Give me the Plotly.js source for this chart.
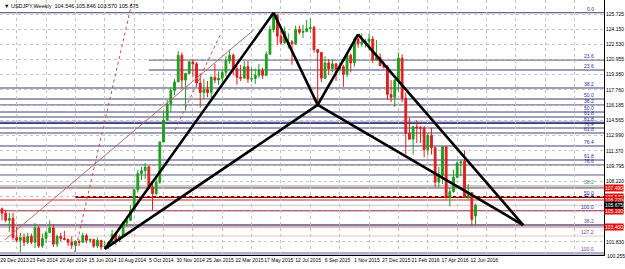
<!DOCTYPE html>
<html><head><meta charset="utf-8">
<script src="https://cdn.plot.ly/plotly-3.0.1.min.js"></script>
<style>html,body{margin:0;padding:0;background:#fff;overflow:hidden}#chart{width:625px;height:269px}</style>
</head><body><div id="chart"></div>
<script>
// ---------- DATA ----------
const startWeek = '2013-12-29';
const symbolTitle = 'USDJPY,Weekly  104.546 105.846 103.570 105.675';
const opens = [105.3,104.85,104.1,104.3,102.3,102.0,102.3,101.8,102.4,101.8,103.3,101.4,102.2,102.8,103.3,101.6,102.4,102.2,102.1,101.8,101.5,101.9,101.8,102.5,102.0,102.1,101.4,102.0,101.3,101.35,
101.8,102.6,102.0,102.4,103.8,104.1,105.1,107.3,109.0,109.3,109.7,107.6,106.9,108.1,112.3,114.6,116.3,117.7,118.6,121.4,118.8,119.5,120.7,120.5,118.5,117.5,117.8,117.5,119.1,118.8,
119.0,119.6,120.8,121.4,120.0,119.1,119.0,120.2,118.9,118.95,119.3,119.8,119.3,121.5,124.1,125.6,123.4,122.7,122.5,122.8,122.6,124.1,123.8,123.9,124.2,124.3,122.0,121.7,119.0,120.6,
120.0,120.5,119.9,120.2,119.4,121.4,120.6,123.1,122.6,122.8,122.85,123.1,120.9,121.2,120.3,120.2,117.3,117.0,118.8,121.1,116.9,113.2,112.6,113.9,113.8,113.75,111.5,113.0,111.7,108.1,
108.8,111.8,106.5,107.1,108.6,110.1,110.3,106.5,107.0,104.546];
const highs = [105.44,105.2,104.9,104.9,103.4,102.8,102.7,102.8,102.7,103.8,103.5,102.7,103.0,104.1,103.7,102.6,102.8,103.0,102.2,102.4,102.0,102.1,102.8,102.7,102.2,102.1,102.3,102.0,101.9,101.9,
103.1,102.8,102.6,104.0,104.5,105.7,107.4,109.4,109.7,110.1,109.8,107.9,108.4,112.4,115.6,116.7,118.0,118.9,121.85,121.7,119.1,120.8,121.0,120.7,119.5,118.9,118.7,119.2,120.5,119.7,
119.9,121.3,122.0,121.6,120.3,120.4,120.8,120.8,120.1,120.0,120.5,120.1,121.8,124.5,125.86,125.7,124.0,124.4,123.7,123.0,124.5,124.5,124.6,125.1,125.3,124.5,122.0,121.7,121.3,121.0,
121.0,120.6,120.6,120.4,121.5,121.6,123.3,123.6,123.7,123.1,123.7,123.4,123.0,121.6,120.8,120.4,118.8,118.9,121.7,121.5,117.5,114.9,114.0,114.6,114.0,114.0,113.3,113.8,111.9,109.7,
111.9,111.9,107.5,109.4,110.3,110.4,111.4,107.9,107.0,105.846];
const lows = [104.1,103.9,102.85,102.0,101.8,100.76,101.4,101.6,101.6,101.2,101.2,101.2,101.7,102.8,101.3,101.3,101.9,102.0,101.4,101.1,100.8,101.4,101.8,101.7,101.7,101.2,101.2,101.0,101.1,101.1,
101.7,101.5,101.8,102.3,103.4,104.0,105.0,107.0,108.3,108.4,107.4,105.2,106.7,107.9,112.3,114.6,115.5,117.2,118.6,117.9,115.6,119.4,119.1,118.1,115.9,116.8,117.0,116.9,118.5,118.3,
118.6,119.2,120.5,119.3,118.3,118.7,119.0,118.5,118.6,118.4,119.0,118.9,119.2,121.5,123.8,122.5,122.5,122.6,122.1,120.4,122.5,123.6,123.2,123.8,123.8,121.7,116.2,118.6,118.9,119.3,
119.6,118.7,119.7,118.1,119.1,119.6,120.2,122.2,122.3,122.2,121.9,120.6,120.8,120.3,120.0,116.7,116.5,115.98,117.6,116.5,110.99,112.6,111.0,112.2,112.2,110.7,110.9,111.0,107.6,107.6,
107.9,106.3,105.55,107.0,108.5,108.7,106.5,106.3,103.55,103.570];
const closes = [104.85,104.1,104.3,102.3,102.0,102.3,101.8,102.4,101.8,103.3,101.4,102.2,102.8,103.3,101.6,102.4,102.2,102.1,101.8,101.5,101.9,101.8,102.5,102.0,102.1,101.4,102.0,101.3,101.35,101.8,
102.6,102.0,102.4,103.8,104.1,105.1,107.3,109.0,109.3,109.7,107.6,106.9,108.1,112.3,114.6,116.3,117.7,118.6,121.4,118.8,119.5,120.7,120.5,118.5,117.5,117.8,117.5,119.1,118.8,119.0,
119.6,120.8,121.4,120.0,119.1,119.0,120.2,118.9,118.95,119.3,119.8,119.3,121.5,124.1,125.6,123.4,122.7,123.9,122.8,122.6,124.1,123.8,123.9,124.2,124.3,122.0,121.7,119.0,120.6,120.0,
120.5,119.9,120.2,119.4,121.4,120.6,123.1,122.6,122.8,122.85,123.1,120.9,121.2,120.3,120.2,117.3,117.0,118.8,121.1,116.9,113.2,112.6,113.9,113.8,113.75,111.5,113.0,111.7,108.1,108.8,
111.8,106.5,107.1,108.6,110.1,110.2,106.5,107.0,104.2,105.675];
const priceTicks = [101.830,103.450,105.025,106.645,108.220,109.795,111.370,112.990,114.565,116.185,117.760,119.380,120.955,122.530,124.150,125.725];
const bottomPriceLabel = 100.255;
// harmonic pattern X A B C D
const patternDates = ['2014-07-13','2015-05-31','2015-08-23','2015-11-08','2016-09-18'];
const patternPrices = [101.1,125.86,116.2,123.6,103.6];
// thin trend line and dotted fan lines
const trendDates = ['2014-01-03','2015-04-23'];
const trendPrices = [102.03,124.05];
const fan1Dates = ['2014-05-17','2014-09-03'];
const fan1Prices = [100.78,126.98];
const fan2Dates = ['2014-11-24','2015-02-18'];
const fan2Prices = [113.57,123.52];
// fibonacci / horizontal levels
const fibPrices = [125.86,120.90,119.855,117.97,116.815,116.19,115.45,114.93,114.30,113.775,113.25,111.89,110.42,109.90,108.85,107.70,107.49,106.54,106.22,105.10,103.61,103.40,102.45,100.67];
const fibLabels = ['0.0','23.6','23.6','38.2','50.0','38.2','50.0','61.8','61.8','76.4','61.8','76.4','61.8','78.6','','38.2','','50.0','61.8','100.0','38.2','','127.2','100.0'];
const fibStartDates = {1:'2014-10-05',2:'2014-10-05',17:'2014-05-18'};
const markedPrices = [107.49,106.54,106.22,105.10,103.40];
const bidPrice = 105.675;

// ---------- STYLE ----------
const W = 7*864e5;
const t0 = Date.parse(startWeek+'T00:00:00Z');
const dates = opens.map((_,i)=>new Date(t0+i*W).toISOString().slice(0,10));
const MONTHS = ['Jan','Feb','Mar','Apr','May','Jun','Jul','Aug','Sep','Oct','Nov','Dec'];
const labelIdx = dates.map((_,i)=>i).filter(i=>i%8===0);
const fmtDate = s => { const d=new Date(s+'T00:00:00Z'); return d.getUTCDate()+' '+MONTHS[d.getUTCMonth()]+' '+d.getUTCFullYear(); };
const iso = ms => new Date(ms).toISOString().slice(0,19).replace('T',' ');
// MT4 date labels start at their bar: centred labels are placed half a label-width to the right
const labelVals = labelIdx.map(i=>iso(Date.parse(dates[i]+'T00:00:00Z')+3.4*W));
const labelText = labelIdx.map(i=>fmtDate(dates[i]));
const FONT = 'Liberation Sans, Arial, sans-serif';
const NAVY='#3e3e70';
const fibStyle = i => {
  const s = {color:NAVY,width:1};
  if(i===8) {s.width=2;}
  if(i===14) {s.color='#5a5a80';}
  if(i===15) {s.color='#7fa3a3';}
  if(i===16) {s.color='#7a2b2b';}
  if(i===17) {s.color='#8b0000';s.width=2;}
  if(i===18) {s.color='#e06a6a';s.width=1.5;}
  if(i===19) {s.color='#b01e3c';}
  if(i===20) {s.color='#55557e';s.width=1.5;}
  if(i===21) {s.color='#ebb3b3';s.width=2;}
  if(i===22) {s.color='#eac3c3';}
  if(i===23) {s.color='#5a5a8c';}
  return s;
};
const labelColor = i => (i===15?'#3a8a8a':(i>=20?'#703a90':'#2a2aa0'));

const shapes = [];
fibPrices.forEach((p,i)=>{
  const st = fibStyle(i);
  const sd = fibStartDates[i];
  shapes.push(sd ? {type:'line',xref:'x',yref:'y',x0:sd,x1:iso(t0+170*W),y0:p,y1:p,line:st,layer:'below'}
                 : {type:'line',xref:'paper',yref:'y',x0:0,x1:1,y0:p,y1:p,line:st,layer:'below'});
});
shapes.push({type:'line',xref:'paper',yref:'y',x0:0,x1:1,y0:fibPrices[23]-0.18,y1:fibPrices[23]-0.18,line:{color:'#c4c4e4',width:2},layer:'below'});
shapes.push({type:'line',xref:'paper',yref:'y',x0:0,x1:1,y0:fibPrices[8]+0.15,y1:fibPrices[8]+0.15,line:{color:'#c4c4e4',width:1.5},layer:'below'});
shapes.push({type:'line',xref:'paper',yref:'y',x0:0,x1:1,y0:bidPrice,y1:bidPrice,line:{color:'#c8c8c8',width:1},layer:'below'});
shapes.push({type:'line',xref:'x',yref:'y',x0:trendDates[0],x1:trendDates[1],y0:trendPrices[0],y1:trendPrices[1],line:{color:'#b86a6a',width:1}});
shapes.push({type:'line',xref:'x',yref:'y',x0:fan1Dates[0],x1:fan1Dates[1],y0:fan1Prices[0],y1:fan1Prices[1],line:{color:'#c05050',width:1,dash:'dot'}});
shapes.push({type:'line',xref:'x',yref:'y',x0:fan2Dates[0],x1:fan2Dates[1],y0:fan2Prices[0],y1:fan2Prices[1],line:{color:'#c05050',width:1,dash:'dot'}});
const seg = [[0,1],[1,2],[2,3],[3,4],[0,2],[2,4]];
seg.forEach(([a,b])=>shapes.push({type:'line',xref:'x',yref:'y',x0:patternDates[a],x1:patternDates[b],y0:patternPrices[a],y1:patternPrices[b],line:{color:'#000',width:2.6}}));

const annotations = [];
fibPrices.forEach((p,i)=>{
  if(!fibLabels[i]) return;
  annotations.push({xref:'paper',yref:'y',x:0.986,y:p,xanchor:'right',yanchor:'bottom',yshift:-1,text:fibLabels[i],showarrow:false,
    font:{family:FONT,size:5,color:labelColor(i)}});
});
markedPrices.forEach(p=>annotations.push({xref:'paper',yref:'y',x:1,y:p,xanchor:'left',yanchor:'middle',xshift:0,text:p.toFixed(3),showarrow:false,
  bgcolor:'#e01010',borderpad:0,font:{family:FONT,size:5,color:'#fff'}}));
annotations.push({xref:'paper',yref:'y',x:1,y:bidPrice,xanchor:'left',yanchor:'middle',xshift:0,text:bidPrice.toFixed(3),showarrow:false,
  bgcolor:'#000',borderpad:0,font:{family:FONT,size:5,color:'#fff'}});
annotations.push({xref:'paper',yref:'paper',x:1,y:0,xanchor:'left',yanchor:'middle',xshift:1,yshift:-1,text:bottomPriceLabel.toFixed(3),showarrow:false,
  font:{family:FONT,size:5,color:'#000'}});
annotations.push({xref:'paper',yref:'paper',x:0.004,y:1,xanchor:'left',yanchor:'top',yshift:-1,text:'▼ '+symbolTitle,showarrow:false,
  font:{family:FONT,size:5.5,color:'#000'}});

const trace = {type:'candlestick',x:dates,open:opens,high:highs,low:lows,close:closes,
  increasing:{line:{color:'#1e9e1e',width:1},fillcolor:'#1e9e1e'},
  decreasing:{line:{color:'#e01e1e',width:1},fillcolor:'#e01e1e'},
  whiskerwidth:0,hoverinfo:'skip'};

const layout = {
  width:625,height:269,margin:{l:0,r:21,t:0,b:14,pad:0},
  paper_bgcolor:'#fff',plot_bgcolor:'#fff',showlegend:false,
  xaxis:{type:'date',range:[iso(t0-0.545*W),iso(t0+164.0*W)],tickmode:'array',tickvals:labelVals,ticktext:labelText,
    ticks:'',tickangle:0,ticklabelstandoff:0,
    tickfont:{family:FONT,size:5,color:'#000'},
    showgrid:false,zeroline:false,showline:true,linecolor:'#000',linewidth:1,
    minor:{tick0:iso(t0+4*W),dtick:8*W,showgrid:true,gridcolor:'#c4c4c4',griddash:'dot',gridwidth:1},
    rangeslider:{visible:false},fixedrange:true},
  yaxis:{side:'right',range:[100.463,127.193],tickvals:priceTicks,ticktext:priceTicks.map(v=>v.toFixed(3)),
    ticks:'',tickfont:{family:FONT,size:5,color:'#000'},
    showgrid:true,gridcolor:'#c4c4c4',griddash:'dot',gridwidth:1,zeroline:false,showline:true,linecolor:'#000',linewidth:1,fixedrange:true},
  shapes:shapes,annotations:annotations
};
Plotly.newPlot('chart',[trace],layout,{displayModeBar:false,staticPlot:true});
</script></body></html>
